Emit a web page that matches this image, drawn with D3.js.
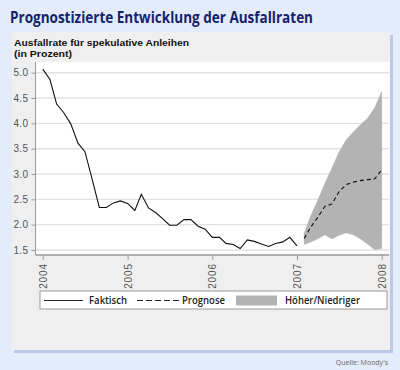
<!DOCTYPE html>
<html><head><meta charset="utf-8">
<script src="https://cdn.jsdelivr.net/npm/d3@7"></script>
<style>
html,body{margin:0;padding:0;background:#e4ecfb;}
svg{display:block;}
</style></head>
<body>
<script>
// ---- data ----
const actualValues = [5.07,4.87,4.38,4.21,3.99,3.61,3.44,2.90,2.34,2.34,2.43,2.47,2.42,2.28,2.60,2.33,2.24,2.12,1.99,1.99,2.10,2.10,1.97,1.91,1.75,1.75,1.63,1.61,1.53,1.70,1.67,1.62,1.57,1.63,1.66,1.75,1.58];
const forecastValues = [1.73,1.95,2.15,2.36,2.41,2.65,2.79,2.84,2.87,2.89,2.90,3.08];
const upperValues = [1.83,2.17,2.48,2.81,3.12,3.43,3.67,3.83,3.97,4.10,4.30,4.62];
const lowerValues = [1.61,1.66,1.72,1.80,1.72,1.79,1.84,1.80,1.72,1.62,1.51,1.53];
const actualMonths = d3.timeMonth.range(new Date(2004,0,1), new Date(2007,1,1));
const forecastMonths = d3.timeMonth.range(new Date(2007,1,1), new Date(2008,1,1));
const yTicks = [1.5,2.0,2.5,3.0,3.5,4.0,4.5,5.0];
const xTickYears = ["2004","2005","2006","2007","2008"];
const titleText = "Prognostizierte Entwicklung der Ausfallraten";
const subtitleLines = ["Ausfallrate für spekulative Anleihen","(in Prozent)"];
const legendLabels = ["Faktisch","Prognose","Höher/Niedriger"];
const sourceText = "Quelle: Moody's";

const W=400,H=370;
const svg=d3.select("body").append("svg").attr("width",W).attr("height",H);
svg.append("rect").attr("width",W).attr("height",H).attr("fill","#e4ecfb");

// panel + shadow
svg.append("rect").attr("x",14).attr("y",35).attr("width",379).attr("height",318).attr("fill","#bcc8ea");
svg.append("rect").attr("x",12).attr("y",32).attr("width",378).attr("height",318).attr("fill","#efefef");

// title
svg.append("text").attr("x",10).attr("y",23).text(titleText)
  .attr("font-family","Open Sans").attr("font-weight","bold").attr("font-size",15.5)
  .attr("fill","#14236b").attr("textLength",303).attr("lengthAdjust","spacingAndGlyphs");
const subW=[175,58];
subtitleLines.forEach((s,i)=>{
  svg.append("text").attr("x",14).attr("y",46+i*11).text(s)
   .attr("font-family","Liberation Sans").attr("font-weight","bold").attr("font-size",9)
   .attr("fill","#111").attr("textLength",subW[i]).attr("lengthAdjust","spacingAndGlyphs");
});

// scales
const x=d3.scaleTime().domain([new Date(2004,0,1),new Date(2008,0,1)]).range([42.7,381.7]);
const y=d3.scaleLinear().domain([1.5,5.0]).range([250,72.7]);

// plot background
svg.append("rect").attr("x",35.5).attr("y",62).attr("width",354).attr("height",193).attr("fill","#ffffff");

// gridlines
svg.append("g").selectAll("line").data(yTicks).join("line")
  .attr("x1",36).attr("x2",389).attr("y1",d=>y(d)).attr("y2",d=>y(d))
  .attr("stroke","#e2e2e2").attr("stroke-width",1.4);

// y axis
const yAxis=d3.axisLeft(y).tickValues(yTicks).tickFormat(d3.format(".1f")).tickSize(4).tickPadding(3);
const gy=svg.append("g").attr("transform","translate(35.5,0)").call(yAxis);
gy.select(".domain").attr("d","M0,62V255").attr("stroke","#9a9a9a");
gy.selectAll(".tick line").attr("stroke","#9a9a9a");
gy.selectAll(".tick text").attr("font-family","Liberation Sans").attr("font-size",10).attr("fill","#555").attr("letter-spacing",0.4);

// x axis
const xAxis=d3.axisBottom(x).tickValues(xTickYears.map(s=>new Date(+s,0,1))).tickFormat(d3.timeFormat("%Y")).tickSize(5).tickPadding(3);
const gx=svg.append("g").attr("transform","translate(0,255)").call(xAxis);
gx.select(".domain").attr("d","M35.5,0H389").attr("stroke","#b0b0b0").attr("stroke-width",2);
gx.selectAll(".tick line").attr("stroke","#9a9a9a");
gx.selectAll(".tick text").attr("font-family","Liberation Sans").attr("font-size",10).attr("fill","#555")
  .attr("letter-spacing",0.9)
  .attr("transform","rotate(-90)").attr("text-anchor","end").attr("x",-8).attr("y",0).attr("dy","0.35em");

// band
const bandData=forecastMonths.map((d,i)=>({d,hi:upperValues[i],lo:lowerValues[i]}));
svg.append("path").datum(bandData)
  .attr("d",d3.area().x(p=>x(p.d)).y0(p=>y(p.lo)).y1(p=>y(p.hi)))
  .attr("fill","#b3b3b3").attr("stroke","#a8a8a8").attr("stroke-width",0.5);

// actual line
svg.append("path").datum(actualMonths.map((d,i)=>({d,v:actualValues[i]})))
  .attr("d",d3.line().x(p=>x(p.d)).y(p=>y(p.v)))
  .attr("fill","none").attr("stroke","#111").attr("stroke-width",1.1);

// forecast line
svg.append("path").datum(forecastMonths.map((d,i)=>({d,v:forecastValues[i]})))
  .attr("d",d3.line().x(p=>x(p.d)).y(p=>y(p.v)))
  .attr("fill","none").attr("stroke","#111").attr("stroke-width",1.1).attr("stroke-dasharray","4,3");

// legend
svg.append("rect").attr("x",40).attr("y",291).attr("width",347).attr("height",18)
  .attr("fill","#fff").attr("stroke","#9a9a9a");
svg.append("line").attr("x1",44).attr("x2",83).attr("y1",300.5).attr("y2",300.5).attr("stroke","#222").attr("stroke-width",1.1);
svg.append("line").attr("x1",137).attr("x2",181).attr("y1",300.5).attr("y2",300.5).attr("stroke","#222").attr("stroke-width",1.1).attr("stroke-dasharray","6,3");
svg.append("rect").attr("x",236).attr("y",295.5).attr("width",41).attr("height",10).attr("fill","#b3b3b3");
const legX=[89,182,285], legW=[38,43,75];
legendLabels.forEach((s,i)=>{
  svg.append("text").attr("x",legX[i]).attr("y",304).text(s)
    .attr("font-family","Open Sans").attr("font-weight",600).attr("font-size",10)
    .attr("fill","#222").attr("textLength",legW[i]).attr("lengthAdjust","spacingAndGlyphs");
});

// source
svg.append("text").attr("x",388).attr("y",365).attr("text-anchor","end").text(sourceText)
  .attr("font-family","Open Sans").attr("font-size",7).attr("fill","#666");
</script>
</body></html>
